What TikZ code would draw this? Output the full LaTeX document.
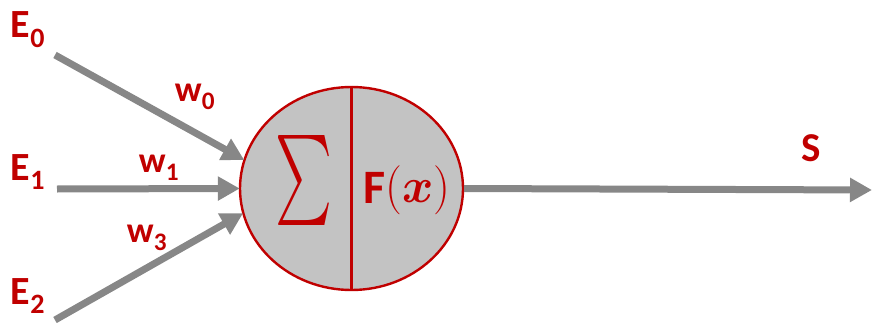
\documentclass[tikz,border=0pt]{standalone}
\usepackage{amsmath,amssymb,bm}
\usepackage{fontspec}
\setmainfont{Carlito}
\usepackage{xcolor}
\usetikzlibrary{arrows.meta,positioning,shapes.geometric,calc}
\definecolor{neurored}{HTML}{C00000}
\definecolor{wiregray}{HTML}{878787}
\definecolor{cellgray}{HTML}{C3C3C3}

\begin{document}
\begin{tikzpicture}[x=1pt, y=1pt,
          every node/.style={font=\fontsize{40}{42}\selectfont\bfseries, text=neurored},
          cell/.style={draw=neurored, line width=2.4pt, ellipse, fill=cellgray,
                       minimum width=223pt, minimum height=203pt, inner sep=0pt},
          wire/.style={draw=wiregray, line width=7pt,
                       -{Triangle[length=22pt, width=23pt]}, shorten >=-1pt}
      ]
        \useasboundingbox (0,0) rectangle (872,322);

        \node[cell] (neuron) at (351.5,133.5) {};
        \draw[neurored, line width=2.4pt] (neuron.north) -- (neuron.south);

        % inputs
        \coordinate (in0) at (55,267);
        \coordinate (in1) at (57,133);
        \coordinate (in2) at (55,2);
        \coordinate (out) at (872,132);

        \node (e0) at (28,292) {E\textsubscript{0}};
        \node (e1) at (28,150) {E\textsubscript{1}};
        \node (e2) at (28,26)  {E\textsubscript{2}};

        \node[font=\fontsize{36}{38}\selectfont\bfseries] (w0) at (195,225) {w\textsubscript{0}};
        \node[font=\fontsize{36}{38}\selectfont\bfseries] (w1) at (159,154) {w\textsubscript{1}};
        \node[font=\fontsize{36}{38}\selectfont\bfseries] (w3) at (147,84)  {w\textsubscript{3}};
        \node[font=\fontsize{41}{43}\selectfont\bfseries] (s)  at (811,174) {S};

        \node[inner sep=0pt] (sum) at (303.5,142)
              {\resizebox{57pt}{90pt}{\raisebox{\depth}{$\sum$}}};
        \node[font=\fontsize{48}{50}\selectfont\bfseries, inner sep=0pt,
              anchor=base west] (act) at (363,119)
              {F\raisebox{-12pt}{\resizebox{65pt}{49pt}{\raisebox{\depth}{$(\bm{x})$}}}};

        \draw[wire] (in0) -- (neuron.165);
        \draw[wire] (in1) -- (neuron.west);
        \draw[wire] (in2) -- (neuron.193);
        \draw[wire, shorten >=0pt] (neuron.east) -- (out);
      \end{tikzpicture}
\end{document}
